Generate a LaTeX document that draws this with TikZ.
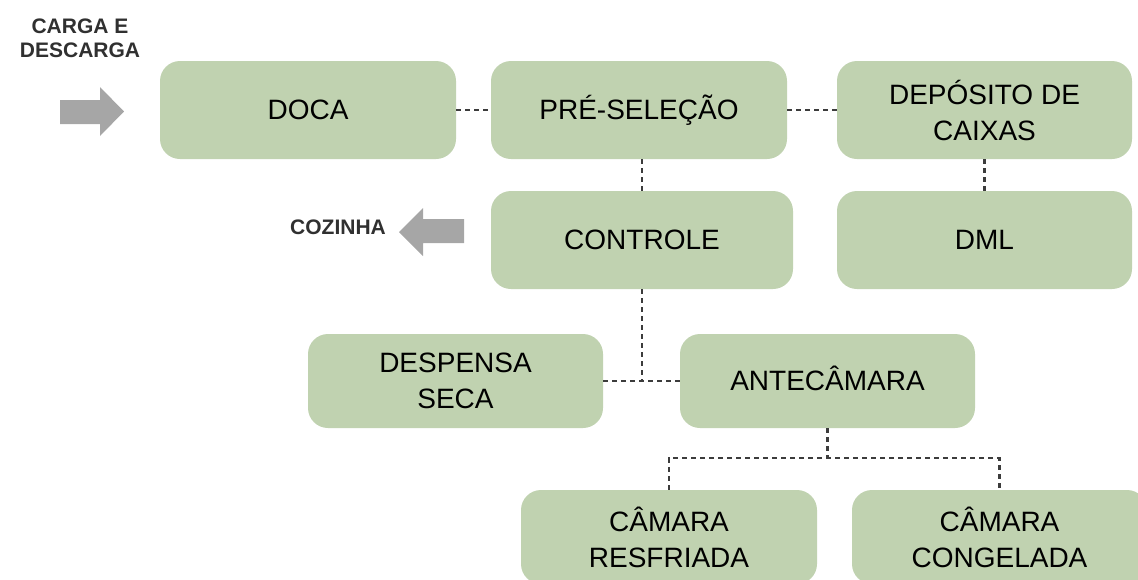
\documentclass[tikz,border=0pt]{standalone}
\usepackage{fontspec}
\setmainfont{Liberation Sans}
\definecolor{boxgreen}{HTML}{C0D2B0}
\definecolor{arrowgray}{HTML}{A6A6A6}
\definecolor{linegray}{HTML}{3C3C3C}
\definecolor{labelgray}{HTML}{303030}
\begin{document}
\begin{tikzpicture}[x=1pt,y=-1pt,
  room/.style={fill=boxgreen, rounded corners=20pt, inner sep=0pt,
    font=\fontsize{28}{36}\selectfont, align=center, text=black,
    minimum width=296pt, minimum height=98pt},
  low/.style={minimum height=94pt},
  conn/.style={draw=linegray, line width=2.1pt, dash pattern=on 5pt off 4pt},
  tag/.style={font=\bfseries\fontsize{21}{24}\selectfont, text=labelgray, align=center},
  bigarrow/.style={fill=arrowgray, draw=none}]
\useasboundingbox (0,0) rectangle (1138,579);
\clip (0,0) rectangle (1138,579);

% boxes
\node[room] (doca) at (308,110) {DOCA};
\node[room] (pre) at (639,110) {PRÉ-SELEÇÃO};
\node[room, minimum width=295pt] (dep) at (984.5,110) {DEPÓSITO DE\\CAIXAS};
\node[room, minimum width=302pt] (ctrl) at (642,240) {CONTROLE};
\node[room, minimum width=295pt] (dml) at (984.5,240) {DML};
\node[room, low, minimum width=295pt] (desp) at (455.5,381) {DESPENSA\\SECA};
\node[room, low, minimum width=295pt] (ante) at (827.5,381) {\raisebox{6pt}{ANTECÂMARA}};
\node[room, low] (resf) at (669,537) {CÂMARA\\RESFRIADA};
\node[room, low, minimum width=295pt] (cong) at (999.5,537) {CÂMARA\\CONGELADA};

% connectors
\draw[conn] (doca.east) -- (pre.west);
\draw[conn] (pre.east) -- (dep.west);
\draw[conn] (ctrl.north) -- (ctrl.north |- pre.south);
\draw[conn] (dep.south) -- (dml.north);
\draw[conn] (desp.east) -- (ante.west);
\draw[conn] (ctrl.south) -- (ctrl.south |- ante.west);
\draw[conn] (ante.south) -- ++(0,30) coordinate (j2);
\draw[conn] (resf.north) |- (j2) -| (cong.north);

% labels
\node[tag] (carga) at (80,38) {CARGA E\\DESCARGA};
\node[tag] (coz) at (338,227) {COZINHA};

% arrows
\fill[bigarrow] (60,100) -- (100,100) -- (100,87) -- (124,111.5) -- (100,136) -- (100,124) -- (60,124) -- cycle;
\fill[bigarrow] (464,219) -- (423,219) -- (423,208) -- (399,232) -- (423,256) -- (423,243) -- (464,243) -- cycle;
\end{tikzpicture}
\end{document}
